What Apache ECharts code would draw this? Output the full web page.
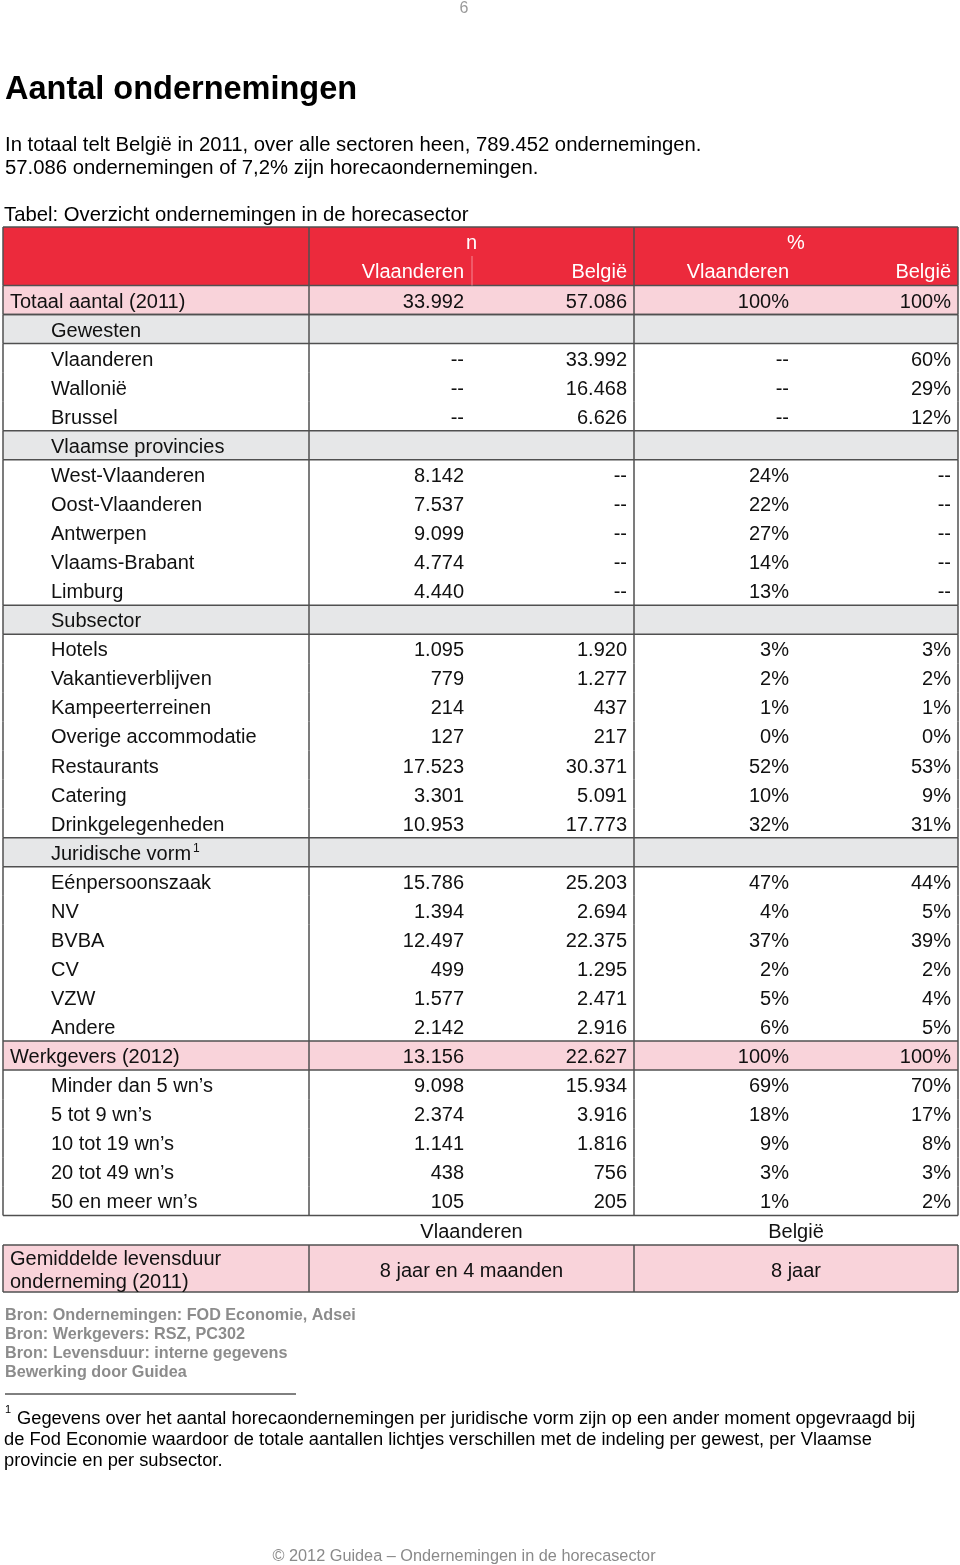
<!DOCTYPE html>
<html>
<head>
<meta charset="utf-8">
<script src="https://cdn.jsdelivr.net/npm/echarts@6/dist/echarts.min.js"></script>
<style>
  html, body { margin: 0; padding: 0; background: #fff; }
  #chart { width: 960px; height: 1565px; }
</style>
</head>
<body>
<div id="chart"></div>
<script>
// table rows
const rowLabels = [
  'Totaal aantal (2011)', 'Gewesten', 'Vlaanderen', 'Wallonië', 'Brussel',
  'Vlaamse provincies', 'West-Vlaanderen', 'Oost-Vlaanderen', 'Antwerpen', 'Vlaams-Brabant', 'Limburg',
  'Subsector', 'Hotels', 'Vakantieverblijven', 'Kampeerterreinen', 'Overige accommodatie',
  'Restaurants', 'Catering', 'Drinkgelegenheden',
  'Juridische vorm', 'Eénpersoonszaak', 'NV', 'BVBA', 'CV', 'VZW', 'Andere',
  'Werkgevers (2012)', 'Minder dan 5 wn’s', '5 tot 9 wn’s', '10 tot 19 wn’s', '20 tot 49 wn’s', '50 en meer wn’s'
]
const rowKinds = [
  'total', 'group', 'data', 'data', 'data',
  'group', 'data', 'data', 'data', 'data', 'data',
  'group', 'data', 'data', 'data', 'data', 'data', 'data', 'data',
  'group', 'data', 'data', 'data', 'data', 'data', 'data',
  'total', 'data', 'data', 'data', 'data', 'data'
]
const rowNotes = rowLabels.map(l => l === 'Juridische vorm' ? '1' : '')
const nVlaanderen = [
  '33.992', '', '--', '--', '--',
  '', '8.142', '7.537', '9.099', '4.774', '4.440',
  '', '1.095', '779', '214', '127', '17.523', '3.301', '10.953',
  '', '15.786', '1.394', '12.497', '499', '1.577', '2.142',
  '13.156', '9.098', '2.374', '1.141', '438', '105'
]
const nBelgie = [
  '57.086', '', '33.992', '16.468', '6.626',
  '', '--', '--', '--', '--', '--',
  '', '1.920', '1.277', '437', '217', '30.371', '5.091', '17.773',
  '', '25.203', '2.694', '22.375', '1.295', '2.471', '2.916',
  '22.627', '15.934', '3.916', '1.816', '756', '205'
]
const pctVlaanderen = [
  '100%', '', '--', '--', '--',
  '', '24%', '22%', '27%', '14%', '13%',
  '', '3%', '2%', '1%', '0%', '52%', '10%', '32%',
  '', '47%', '4%', '37%', '2%', '5%', '6%',
  '100%', '69%', '18%', '9%', '3%', '1%'
]
const pctBelgie = [
  '100%', '', '60%', '29%', '12%',
  '', '--', '--', '--', '--', '--',
  '', '3%', '2%', '1%', '0%', '53%', '9%', '31%',
  '', '44%', '5%', '39%', '2%', '4%', '5%',
  '100%', '70%', '17%', '8%', '3%', '2%'
]
const headerGroups = ['n', '%']
const headerCols = ['Vlaanderen', 'België', 'Vlaanderen', 'België']
const lifespanCols = ['Vlaanderen', 'België']
const lifespanLabel = ['Gemiddelde levensduur', 'onderneming (2011)']
const lifespanValues = ['8 jaar en 4 maanden', '8 jaar']

const title = 'Aantal ondernemingen'
const intro = [
  'In totaal telt België in 2011, over alle sectoren heen, 789.452 ondernemingen.',
  '57.086 ondernemingen of 7,2% zijn horecaondernemingen.'
]
const caption = 'Tabel: Overzicht ondernemingen in de horecasector'
const sources = [
  'Bron: Ondernemingen: FOD Economie, Adsei',
  'Bron: Werkgevers: RSZ, PC302',
  'Bron: Levensduur: interne gegevens',
  'Bewerking door Guidea'
]
const footnote = [
  'Gegevens over het aantal horecaondernemingen per juridische vorm zijn op een ander moment opgevraagd bij',
  'de Fod Economie waardoor de totale aantallen lichtjes verschillen met de indeling per gewest, per Vlaamse',
  'provincie en per subsector.'
]
const footer = '© 2012 Guidea – Ondernemingen in de horecasector'
const pageNo = '6'

const FONT = '"Liberation Sans", Arial, Helvetica, sans-serif'
const RED = '#ec2a3c'
const PINK = '#f9d3da'
const GREY = '#e6e7e8'
const LINE = '#505050'
const LEFT = 3, COL1 = 309, COL2 = 634, RIGHT = 958
const VALUE_EDGES = [464, 627, 789, 951]
const ROW_H = 29.06
const TABLE_TOP = 285.5

function txt(x, y, text, opts) {
  return {
    type: 'text', z: 10,
    style: Object.assign({
      x, y, text, fill: '#111', font: '20px ' + FONT,
      align: 'left', verticalAlign: 'middle'
    }, opts || {})
  }
}
function hline(x1, x2, y, color, w) {
  return { type: 'line', z: 5, shape: { x1, y1: y, x2, y2: y }, style: { stroke: color || LINE, lineWidth: w || 1.5 } }
}
function vline(x, y1, y2, color, w) {
  return { type: 'line', z: 5, shape: { x1: x, y1, x2: x, y2 }, style: { stroke: color || LINE, lineWidth: w || 1.5 } }
}

function renderRow(params, api) {
  const i = api.value(0)
  const yc = api.coord([0, i])[1]
  const h = api.size([0, 1])[1]
  const top = yc - h / 2, bottom = yc + h / 2
  const xl = api.coord([LEFT, i])[0], xr = api.coord([RIGHT, i])[0]
  const kind = rowKinds[i]
  const children = []
  const fill = kind === 'total' ? PINK : kind === 'group' ? GREY : '#fff'
  children.push({ type: 'rect', shape: { x: xl, y: top, width: xr - xl, height: h }, style: { fill } })
  const ln = { stroke: LINE, lineWidth: 1.5 }
  if (kind !== 'data' || i === rowLabels.length - 1) {
    if (kind !== 'data') children.push({ type: 'line', z2: 10, shape: { x1: xl, y1: top, x2: xr, y2: top }, style: ln })
    children.push({ type: 'line', z2: 10, shape: { x1: xl, y1: bottom, x2: xr, y2: bottom }, style: ln })
  }
  ;[LEFT, COL1, COL2, RIGHT].forEach(c => {
    const x = api.coord([c, i])[0]
    children.push({ type: 'line', z2: 10, shape: { x1: x, y1: top, x2: x, y2: bottom }, style: ln })
  })
  const labelX = api.coord([kind === 'total' ? 10 : 51, i])[0]
  children.push({
    type: 'text', z2: 20,
    style: {
      x: labelX, y: yc + 2,
      text: rowNotes[i] ? '{m|' + rowLabels[i] + '}{s|' + rowNotes[i] + '}' : rowLabels[i],
      font: '20px ' + FONT, fill: '#111', align: 'left', verticalAlign: 'middle',
      rich: {
        m: { fontSize: 20, fontFamily: FONT, color: '#111' },
        s: { fontSize: 12, fontFamily: FONT, color: '#111', verticalAlign: 'top', padding: [0, 0, 10, 2] }
      }
    }
  })
  const vals = [nVlaanderen[i], nBelgie[i], pctVlaanderen[i], pctBelgie[i]]
  vals.forEach((v, k) => {
    if (!v) return
    children.push({
      type: 'text', z2: 20,
      style: {
        x: api.coord([VALUE_EDGES[k], i])[0], y: yc + 2, text: v,
        font: '20px ' + FONT, fill: '#111', align: 'right', verticalAlign: 'middle'
      }
    })
  })
  return { type: 'group', children }
}

const graphics = []
// page texts
graphics.push(txt(464, 9, pageNo, { fill: '#9a9a9a', font: '16px ' + FONT, align: 'center' }))
graphics.push(txt(5, 90, title, { font: 'bold 32.5px ' + FONT, fill: '#000' }))
intro.forEach((t, k) => graphics.push(txt(5, 145 + k * 23, t, { fill: '#000', font: '20.3px ' + FONT })))
graphics.push(txt(4, 215, caption, { fill: '#000', font: '20.3px ' + FONT }))

// table header
const HEAD_TOP = 227, HEAD_BOT = TABLE_TOP
graphics.push({ type: 'rect', z: 1, shape: { x: LEFT, y: HEAD_TOP, width: RIGHT - LEFT, height: HEAD_BOT - HEAD_TOP }, style: { fill: RED } })
graphics.push(hline(LEFT, RIGHT, HEAD_TOP))
;[LEFT, COL1, COL2, RIGHT].forEach(c => graphics.push(vline(c, HEAD_TOP, HEAD_BOT)))
graphics.push(vline(472, 256, HEAD_BOT, '#f38a95', 1))
graphics.push(txt((COL1 + COL2) / 2, 243, headerGroups[0], { fill: '#fff', align: 'center' }))
graphics.push(txt((COL2 + RIGHT) / 2, 243, headerGroups[1], { fill: '#fff', align: 'center' }))
headerCols.forEach((t, k) => graphics.push(txt(VALUE_EDGES[k], 272, t, { fill: '#fff', align: 'right' })))

// lifespan block
const LS_TOP = 1245, LS_BOT = 1292
lifespanCols.forEach((t, k) => graphics.push(txt(k === 0 ? (COL1 + COL2) / 2 : (COL2 + RIGHT) / 2, 1232, t, { align: 'center' })))
graphics.push({ type: 'rect', z: 1, shape: { x: LEFT, y: LS_TOP, width: RIGHT - LEFT, height: LS_BOT - LS_TOP }, style: { fill: PINK } })
graphics.push(hline(LEFT, RIGHT, LS_TOP))
graphics.push(hline(LEFT, RIGHT, LS_BOT))
;[LEFT, COL1, COL2, RIGHT].forEach(c => graphics.push(vline(c, LS_TOP, LS_BOT)))
lifespanLabel.forEach((t, k) => graphics.push(txt(10, 1259 + k * 23, t)))
lifespanValues.forEach((t, k) => graphics.push(txt(k === 0 ? (COL1 + COL2) / 2 : (COL2 + RIGHT) / 2, 1271, t, { align: 'center' })))

// sources and footnote
sources.forEach((t, k) => graphics.push(txt(5, 1316 + k * 19, t, { fill: '#8c8c8c', font: 'bold 16.2px ' + FONT })))
graphics.push(hline(5, 296, 1394, '#000', 1))
graphics.push(txt(5, 1410, '1', { font: '11px ' + FONT, fill: '#000' }))
footnote.forEach((t, k) => graphics.push(txt(k === 0 ? 17 : 4, 1419 + k * 21, t, { font: '18.3px ' + FONT, fill: '#000' })))
graphics.push(txt(464, 1557, footer, { fill: '#8a8a8a', font: '16.3px ' + FONT, align: 'center' }))

const chart = echarts.init(document.getElementById('chart'), null, { renderer: 'canvas' })
chart.setOption({
  animation: false,
  backgroundColor: '#fff',
  grid: { left: 0, right: 0, top: TABLE_TOP, height: ROW_H * rowLabels.length },
  xAxis: { type: 'value', min: 0, max: 960, show: false },
  yAxis: { type: 'category', data: rowLabels, inverse: true, show: false },
  series: [{
    type: 'custom',
    renderItem: renderRow,
    data: rowLabels.map((_, i) => [i]),
    encode: { y: 0 },
    silent: true
  }],
  graphic: { elements: graphics }
})
</script>
</body>
</html>
